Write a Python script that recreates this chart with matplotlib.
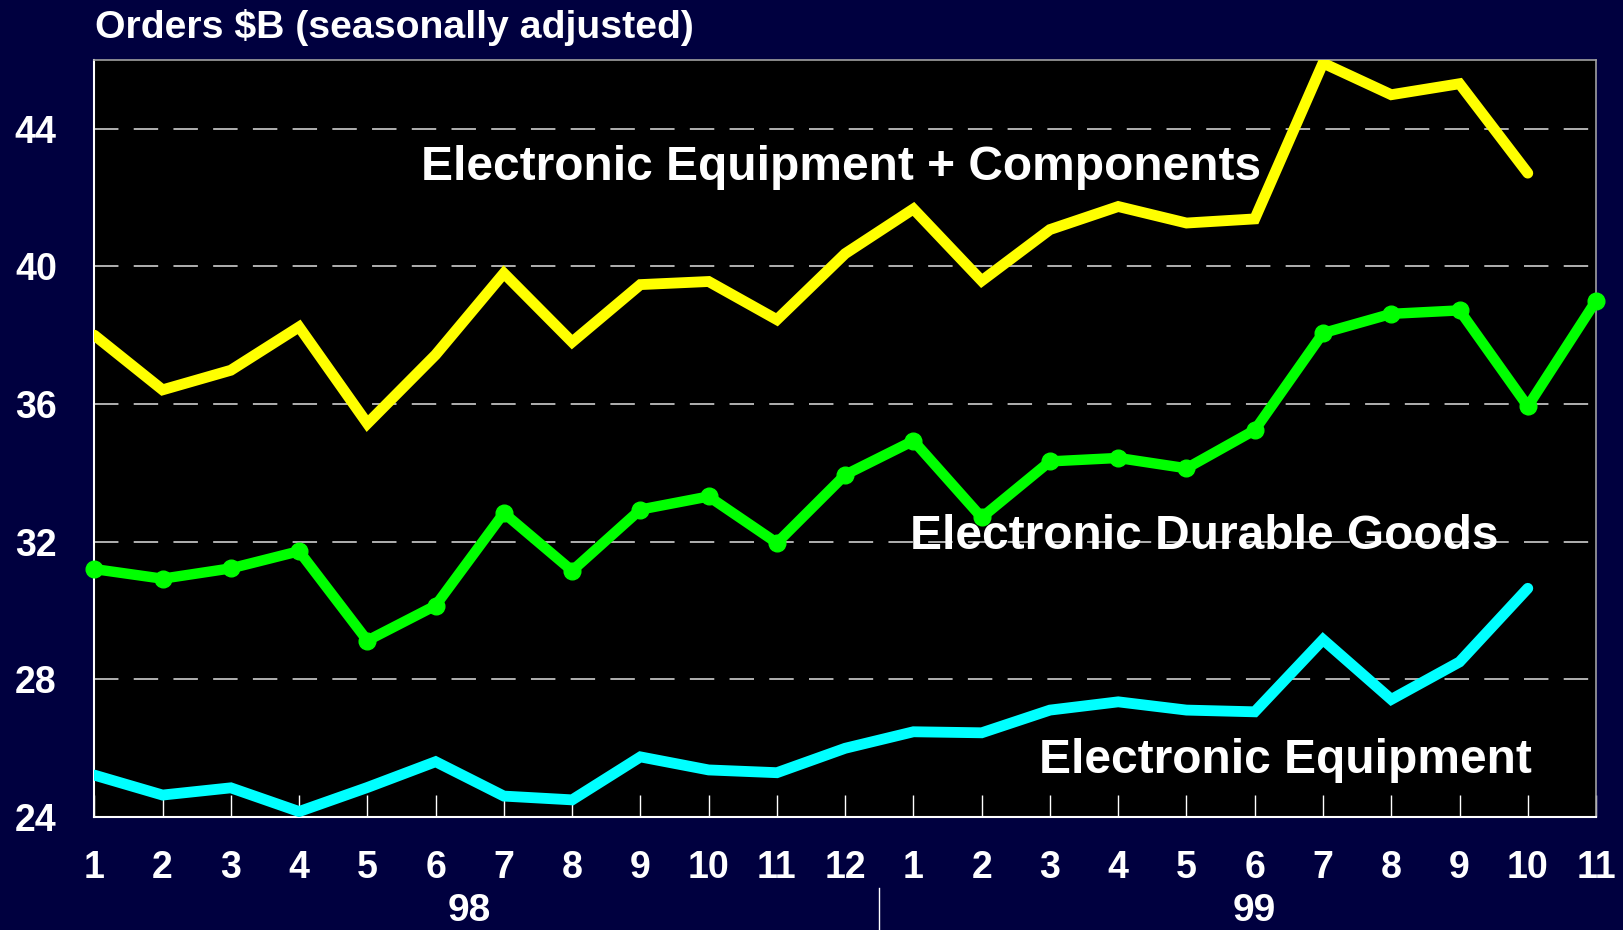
import matplotlib
matplotlib.use('Agg')
import matplotlib.pyplot as plt
import matplotlib.transforms as mtransforms
import numpy as np

plt.rcParams['font.family'] = ['Liberation Sans', 'DejaVu Sans']
plt.rcParams['font.weight'] = 'bold'

# months Jan 98 .. Nov 99
month_labels = ['1', '2', '3', '4', '5', '6', '7', '8', '9', '10', '11', '12',
                '1', '2', '3', '4', '5', '6', '7', '8', '9', '10', '11']
years = ['98', '99']

equip_components = [38.0, 36.41, 36.98, 38.24, 35.43, 37.43, 39.8, 37.8, 39.47, 39.56, 38.45,
                    40.37, 41.67, 39.58, 41.07, 41.74, 41.26, 41.38, 45.91, 44.99, 45.31, 42.71]
durable_goods = [31.20, 30.92, 31.22, 31.72, 29.12, 30.14, 32.83, 31.15, 32.93, 33.31, 31.96,
                 33.94, 34.93, 32.70, 34.33, 34.43, 34.13, 35.24, 38.06, 38.62, 38.72, 35.93, 39.0]
equipment = [25.21, 24.63, 24.84, 24.15, 24.85, 25.60, 24.60, 24.49, 25.74, 25.36, 25.28,
             25.99, 26.47, 26.44, 27.10, 27.34, 27.10, 27.05, 29.15, 27.41, 28.50, 30.64]

BG = '#00003f'

fig = plt.figure(figsize=(16.23, 9.30), dpi=100, facecolor=BG)
ax = fig.add_axes([0.0581, 0.1218, 0.9253, 0.8137])
ax.set_facecolor('black')

ax.set_xlim(0, len(month_labels) - 1)
ax.set_ylim(24, 46)

for yv in [28, 32, 36, 40, 44]:
    ax.axhline(yv, color='#e0e0e0', lw=1.1, ls=(0, (16, 10)), zorder=1)

x_ec = np.arange(len(equip_components))
x_dg = np.arange(len(durable_goods))
x_eq = np.arange(len(equipment))

ax.plot(x_ec, equip_components, color='#ffff00', lw=7.8,
        solid_capstyle='round', solid_joinstyle='miter', zorder=3)
ax.plot(x_dg, durable_goods, color='#00ff00', lw=7.5, marker='o', markersize=12,
        solid_capstyle='round', solid_joinstyle='miter', zorder=3, clip_on=False)
ax.plot(x_eq, equipment, color='#00ffff', lw=7.8,
        solid_capstyle='round', solid_joinstyle='miter', zorder=3)

txt = dict(color='white', fontsize=34.5, fontweight='bold', va='baseline', ha='left', zorder=5)
ax.text(4.79, 42.52, 'Electronic Equipment + Components', **txt)
ax.text(11.95, 31.77, 'Electronic Durable Goods', **txt)
ax.text(13.84, 25.28, 'Electronic Equipment', **txt)

ax.set_xticks(np.arange(len(month_labels)))
ax.set_xticklabels(month_labels)
ax.set_yticks([24, 28, 32, 36, 40, 44])
ax.tick_params(axis='x', direction='in', length=16, width=1, color='white',
               labelsize=27, labelcolor='white', pad=24)
ax.tick_params(axis='y', length=0, labelsize=27, labelcolor='white', pad=27)

for side in ['left', 'bottom']:
    ax.spines[side].set_color('white')
    ax.spines[side].set_linewidth(1.5)
for side in ['top', 'right']:
    ax.spines[side].set_color('#a0a0a0')
    ax.spines[side].set_linewidth(1.2)

# year labels under the month ticks
trans = mtransforms.blended_transform_factory(ax.transData, ax.transAxes)
ax.text(5.5, -0.125, years[0], transform=trans, color='white', fontsize=28,
        fontweight='bold', ha='center', va='center')
ax.text(17, -0.125, years[1], transform=trans, color='white', fontsize=28,
        fontweight='bold', ha='center', va='center')
ax.plot([11.5, 11.5], [-0.094, -0.16], transform=trans, color='white', lw=1, clip_on=False)

fig.text(0.0585, 0.9588, 'Orders $B (seasonally adjusted)', color='white',
         fontsize=28.3, fontweight='bold', ha='left', va='baseline')

fig.savefig('out.png', dpi=100, facecolor=BG)
